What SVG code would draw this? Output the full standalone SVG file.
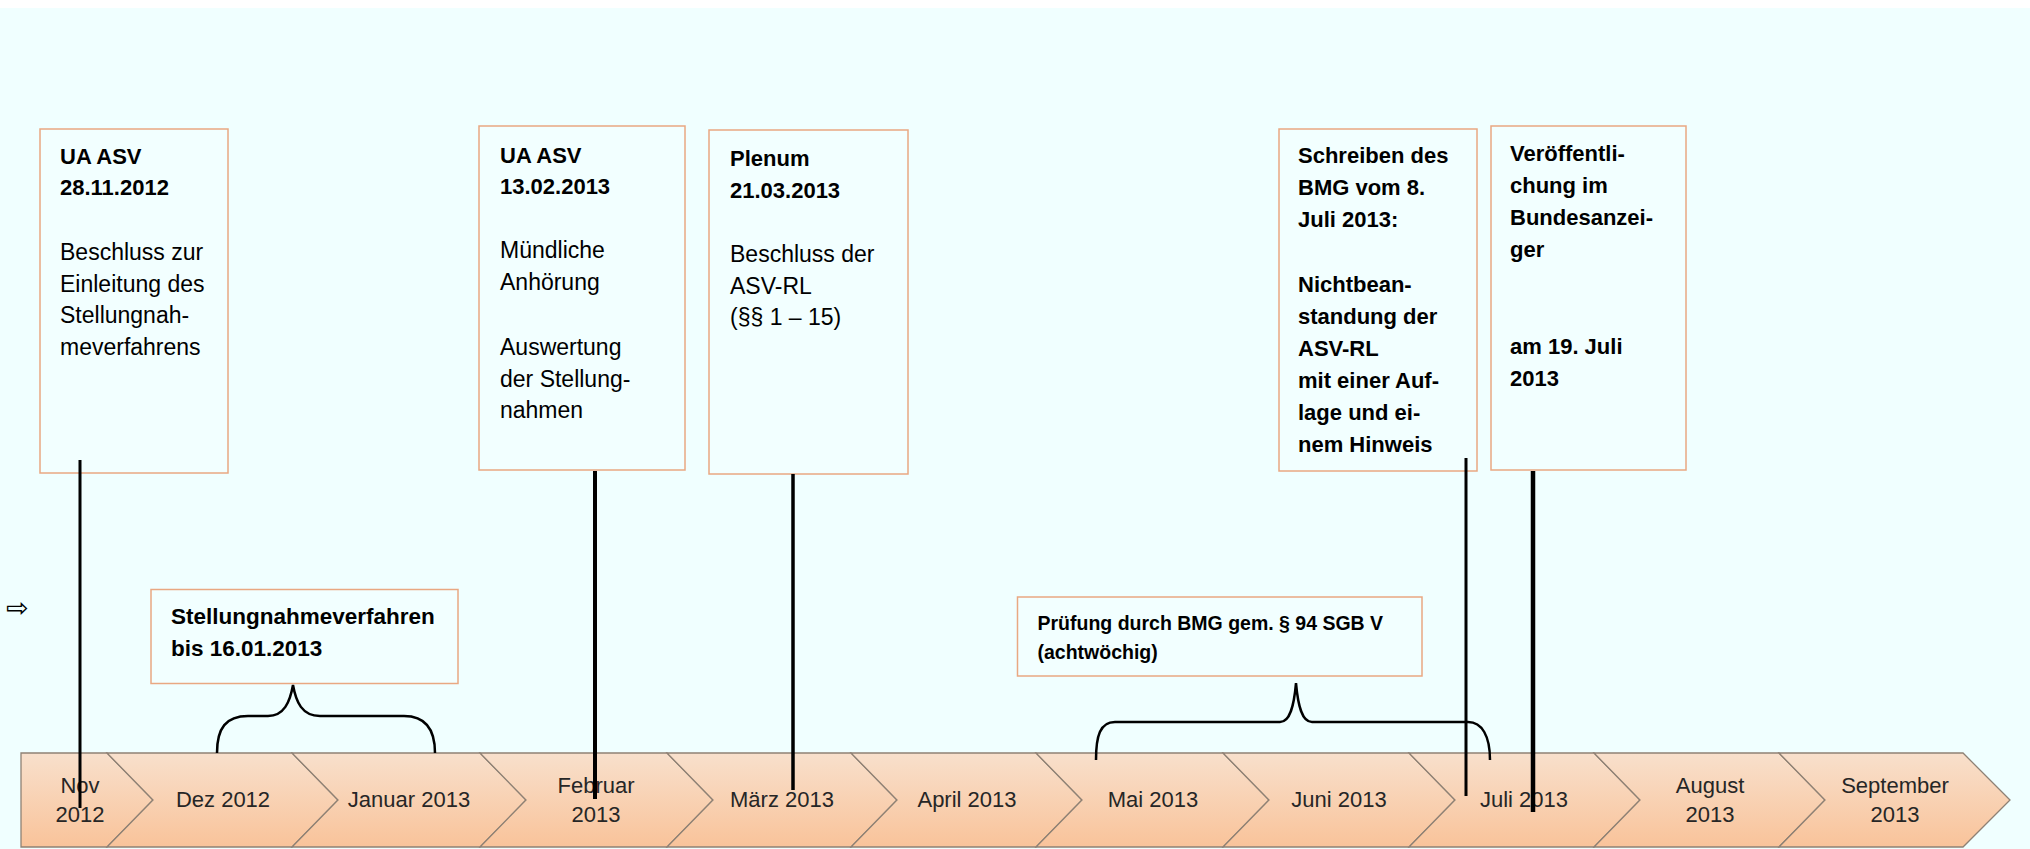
<svg xmlns="http://www.w3.org/2000/svg" width="2030" height="849" viewBox="0 0 2030 849">
<defs>
<linearGradient id="band" x1="0" y1="0" x2="0" y2="1">
<stop offset="0" stop-color="#F8E0CC"/>
<stop offset="1" stop-color="#F9C39A"/>
</linearGradient>
<style>
.box{fill:#F2FFFF;stroke:#E9A882;stroke-width:1.5}
.chev{fill:url(#band);stroke:#8E8174;stroke-width:1.3}
.t{font-family:"Liberation Sans",Arial,sans-serif;font-size:23px;fill:#000}
.b{font-family:"Liberation Sans",Arial,sans-serif;font-size:22px;font-weight:bold;fill:#000}
.bs{font-family:"Liberation Sans",Arial,sans-serif;font-size:19.5px;font-weight:bold;fill:#000}
.m{font-family:"Liberation Sans",Arial,sans-serif;font-size:22px;fill:#262626;text-anchor:middle}
.ln{stroke:#000;fill:none}
.br{stroke:#000;fill:none;stroke-width:2.5}
</style>
</defs>
<rect x="0" y="0" width="2030" height="849" fill="#FFFFFF"/>
<rect x="0" y="8" width="2030" height="841" fill="#F0FFFF"/>
<text x="6" y="617" style="font-family:'DejaVu Sans',sans-serif;font-size:27px;fill:#000">⇨</text>

<g id="timeline">
<polygon class="chev" points="21,753 107,753 153,800 107,847 21,847"/>
<polygon class="chev" points="107,753 292,753 338,800 292,847 107,847 153,800"/>
<polygon class="chev" points="292,753 480,753 526,800 480,847 292,847 338,800"/>
<polygon class="chev" points="480,753 667,753 713,800 667,847 480,847 526,800"/>
<polygon class="chev" points="667,753 851,753 897,800 851,847 667,847 713,800"/>
<polygon class="chev" points="851,753 1036,753 1082,800 1036,847 851,847 897,800"/>
<polygon class="chev" points="1036,753 1223,753 1269,800 1223,847 1036,847 1082,800"/>
<polygon class="chev" points="1223,753 1409,753 1455,800 1409,847 1223,847 1269,800"/>
<polygon class="chev" points="1409,753 1594,753 1640,800 1594,847 1409,847 1455,800"/>
<polygon class="chev" points="1594,753 1779,753 1825,800 1779,847 1594,847 1640,800"/>
<polygon class="chev" points="1779,753 1963,753 2010,800 1963,847 1779,847 1825,800"/>
<text class="m" x="80" y="793">Nov</text>
<text class="m" x="80" y="822">2012</text>
<text class="m" x="223" y="807">Dez 2012</text>
<text class="m" x="409" y="807">Januar 2013</text>
<text class="m" x="596" y="793">Februar</text>
<text class="m" x="596" y="822">2013</text>
<text class="m" x="782" y="807">März 2013</text>
<text class="m" x="967" y="807">April 2013</text>
<text class="m" x="1153" y="807">Mai 2013</text>
<text class="m" x="1339" y="807">Juni 2013</text>
<text class="m" x="1524" y="807">Juli 2013</text>
<text class="m" x="1710" y="793">August</text>
<text class="m" x="1710" y="822">2013</text>
<text class="m" x="1895" y="793">September</text>
<text class="m" x="1895" y="822">2013</text>
</g>

<g id="n1">
<rect class="box" x="40" y="129" width="188" height="344"/>
<text class="b" x="60" y="164">UA ASV</text>
<text class="b" x="60" y="195">28.11.2012</text>
<text class="t" x="60" y="260">Beschluss zur</text>
<text class="t" x="60" y="292">Einleitung des</text>
<text class="t" x="60" y="323">Stellungnah-</text>
<text class="t" x="60" y="355">meverfahrens</text>
</g>

<g id="n2">
<rect class="box" x="479" y="126" width="206" height="344"/>
<text class="b" x="500" y="163">UA ASV</text>
<text class="b" x="500" y="194">13.02.2013</text>
<text class="t" x="500" y="258">Mündliche</text>
<text class="t" x="500" y="290">Anhörung</text>
<text class="t" x="500" y="355">Auswertung</text>
<text class="t" x="500" y="387">der Stellung-</text>
<text class="t" x="500" y="418">nahmen</text>
</g>

<g id="n3">
<rect class="box" x="709" y="130" width="199" height="344"/>
<text class="b" x="730" y="166">Plenum</text>
<text class="b" x="730" y="198">21.03.2013</text>
<text class="t" x="730" y="262">Beschluss der</text>
<text class="t" x="730" y="294">ASV-RL</text>
<text class="t" x="730" y="325">(§§ 1 – 15)</text>
</g>

<g id="n4">
<rect class="box" x="1279" y="129" width="198" height="342"/>
<text class="b" x="1298" y="163">Schreiben des</text>
<text class="b" x="1298" y="195">BMG vom 8.</text>
<text class="b" x="1298" y="227">Juli 2013:</text>
<text class="b" x="1298" y="292">Nichtbean-</text>
<text class="b" x="1298" y="324">standung der</text>
<text class="b" x="1298" y="356">ASV-RL</text>
<text class="b" x="1298" y="388">mit einer Auf-</text>
<text class="b" x="1298" y="420">lage und ei-</text>
<text class="b" x="1298" y="452">nem Hinweis</text>
</g>

<g id="n5">
<rect class="box" x="1491" y="126" width="195" height="344"/>
<text class="b" x="1510" y="161">Veröffentli-</text>
<text class="b" x="1510" y="193">chung im</text>
<text class="b" x="1510" y="225">Bundesanzei-</text>
<text class="b" x="1510" y="257">ger</text>
<text class="b" x="1510" y="354">am 19. Juli</text>
<text class="b" x="1510" y="386">2013</text>
</g>

<g id="n6">
<rect class="box" x="151" y="589.5" width="307" height="94"/>
<text class="b" x="171" y="624" style="font-size:22.5px">Stellungnahmeverfahren</text>
<text class="b" x="171" y="656" style="font-size:22.5px">bis 16.01.2013</text>
</g>

<g id="n7">
<rect class="box" x="1017.5" y="597" width="404.5" height="79"/>
<text class="bs" x="1037.5" y="630">Prüfung durch BMG gem. § 94 SGB V</text>
<text class="bs" x="1037.5" y="659">(achtwöchig)</text>
</g>

<g id="connectors">
<line class="ln" x1="80" y1="460" x2="80" y2="808" stroke-width="3"/>
<line class="ln" x1="595" y1="471" x2="595" y2="799" stroke-width="4"/>
<line class="ln" x1="793" y1="474" x2="793" y2="790" stroke-width="3.5"/>
<line class="ln" x1="1466" y1="458" x2="1466" y2="796" stroke-width="3"/>
<line class="ln" x1="1533" y1="471" x2="1533" y2="812" stroke-width="4.5"/>
<path class="br" d="M217,753 C217,728 226,716 248,716 L268,716 C284,716 290,702 293,685 C296,702 302,716 320,716 L404,716 C425,716 435,728 435,753"/>
<path class="br" d="M1096,760 C1096,736 1100,722 1115,722 L1280,722 C1290,722 1294,706 1296,683 C1298,706 1302,722 1312,722 L1468,722 C1482,722 1490,736 1490,760"/>
</g>
</svg>
